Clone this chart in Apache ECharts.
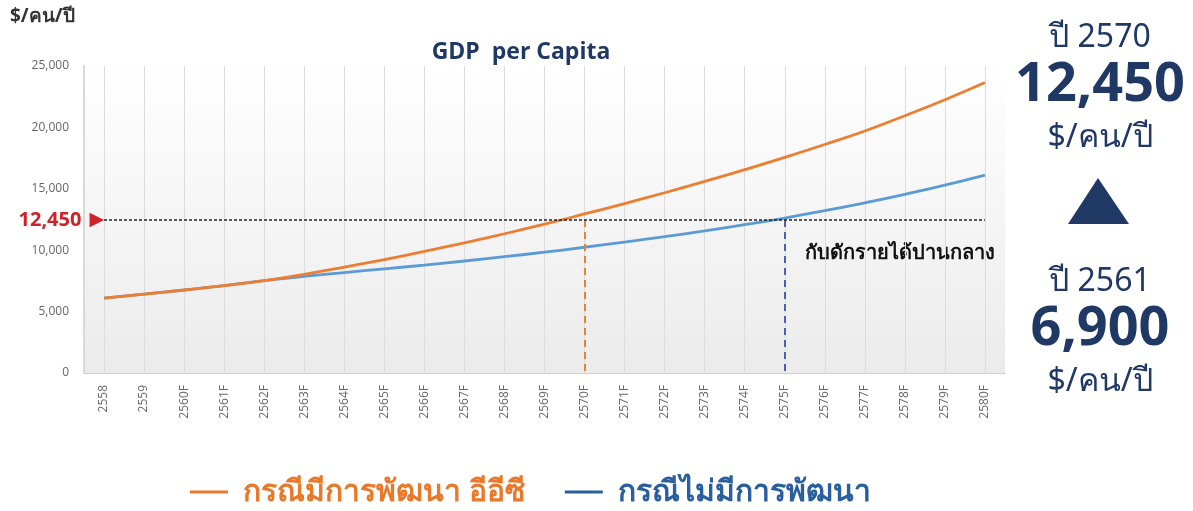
<!DOCTYPE html>
<html>
<head>
<meta charset="utf-8">
<script src="https://cdn.jsdelivr.net/npm/echarts@6/dist/echarts.min.js"></script>
<style>
  html, body { margin: 0; padding: 0; background: #ffffff; }
  #main { width: 1193px; height: 511px; }
</style>
</head>
<body>
<div id="main"></div>
<script>
// ปี (แกน x)
var years = ['2558', '2559', '2560F', '2561F', '2562F', '2563F', '2564F', '2565F', '2566F', '2567F', '2568F', '2569F',
  '2570F', '2571F', '2572F', '2573F', '2574F', '2575F', '2576F', '2577F', '2578F', '2579F', '2580F'];
// กรณีมีการพัฒนา อีอีซี
var eecGdp = [6100, 6430, 6760, 7110, 7520, 8040, 8620, 9240, 9900, 10600, 11340, 12120,
  12950, 13800, 14680, 15600, 16560, 17560, 18610, 19710, 20950, 22250, 23650];
// กรณีไม่มีการพัฒนา
var baseGdp = [6100, 6430, 6760, 7110, 7520, 7860, 8180, 8480, 8790, 9120, 9470, 9840,
  10240, 10660, 11100, 11570, 12080, 12620, 13220, 13860, 14550, 15300, 16120];
var yTicks = [0, 5000, 10000, 15000, 20000, 25000];
var trapValue = 12450;
var eecYear = '2570F';
var baseYear = '2575F';

var navy = '#1f3864';
var font = '"Noto Sans", "Open Sans", sans-serif';

var chart = echarts.init(document.getElementById('main'));

chart.setOption({
  backgroundColor: '#ffffff',
  animation: false,
  grid: {
    left: 84, right: 188, top: 66, bottom: 138,
    show: true,
    borderWidth: 0,
    backgroundColor: new echarts.graphic.LinearGradient(0, 0, 0, 1, [
      { offset: 0, color: '#ffffff' },
      { offset: 1, color: '#ebebeb' }
    ])
  },
  legend: {
    bottom: -1,
    left: 185,
    icon: 'rect',
    itemWidth: 38,
    itemHeight: 3,
    itemGap: 40,
    textStyle: { fontFamily: font, fontSize: 30, fontWeight: 'bold', padding: [0, 0, 0, 10] },
    data: [
      { name: 'กรณีมีการพัฒนา อีอีซี', textStyle: { color: '#e8792b' } },
      { name: 'กรณีไม่มีการพัฒนา', textStyle: { color: '#2a5f9e' } }
    ]
  },
  xAxis: {
    type: 'category',
    data: years,
    boundaryGap: true,
    axisLine: { lineStyle: { color: '#d0d0d0' } },
    axisTick: { show: true, inside: true, alignWithLabel: true, length: 307, lineStyle: { color: '#dcdcdc' } },
    splitLine: { show: false },
    axisLabel: { rotate: 90, fontSize: 12, color: '#666666', margin: 12, fontFamily: '"Open Sans", sans-serif' }
  },
  yAxis: {
    type: 'value',
    min: yTicks[0],
    max: yTicks[yTicks.length - 1],
    interval: yTicks[1] - yTicks[0],
    axisLine: { show: true, lineStyle: { color: '#d9d9d9', width: 2 } },
    axisTick: { show: false },
    splitLine: { show: false },
    axisLabel: {
      fontSize: 12, color: '#666666', margin: 15, fontFamily: '"Open Sans", sans-serif',
      formatter: function (v) { return v.toLocaleString('en-US'); }
    }
  },
  series: [
    {
      name: 'กรณีไม่มีการพัฒนา',
      type: 'line',
      data: baseGdp,
      smooth: true,
      showSymbol: false,
      lineStyle: { color: '#5b9bd5', width: 2.8 },
      itemStyle: { color: '#2a5f9e' },
      z: 2,
      markLine: {
        silent: true,
        symbol: 'none',
        label: { show: false },
        lineStyle: { color: '#4d5fb0', type: [7, 5], width: 2 },
        data: [[{ coord: [baseYear, trapValue] }, { coord: [baseYear, 0] }]]
      }
    },
    {
      name: 'กรณีมีการพัฒนา อีอีซี',
      type: 'line',
      data: eecGdp,
      smooth: true,
      showSymbol: false,
      lineStyle: { color: '#ed7d31', width: 2.8 },
      itemStyle: { color: '#e8792b' },
      z: 3,
      markLine: {
        silent: true,
        symbol: 'none',
        data: [
          [{ coord: [eecYear, trapValue] }, { coord: [eecYear, 0] }],
          [
            {
              coord: [years[0], trapValue],
              lineStyle: { color: '#222222', type: [3, 2], width: 1.5 },
              label: {
                show: true,
                position: 'start',
                distance: 0,
                formatter: '{v|12,450}{t|▶}',
                rich: {
                  v: { color: '#d0202a', fontSize: 20, fontWeight: 'bold', fontFamily: '"Open Sans", sans-serif', padding: [0, 8, 0, 0] },
                  t: { color: '#d0202a', fontSize: 19, fontFamily: '"DejaVu Sans", sans-serif' }
                }
              }
            },
            { coord: [years[years.length - 1], trapValue] }
          ]
        ],
        label: { show: false },
        lineStyle: { color: '#e8803a', type: [7, 5], width: 2 }
      }
    }
  ],
  graphic: [
    { type: 'text', left: 10, top: 7, style: { text: '$/คน/ปี', fill: '#333333', font: 'bold 19px ' + font } },
    { type: 'text', x: 521, y: 52, style: { text: 'GDP  per Capita', fill: navy, font: 'bold 23px "Open Sans", sans-serif', textAlign: 'center', textVerticalAlign: 'middle' } },
    { type: 'text', x: 805, y: 253, style: { text: 'กับดักรายได้ปานกลาง', fill: '#111111', font: 'bold 20px ' + font, textVerticalAlign: 'middle' } },
    { type: 'text', x: 1100, y: 38, style: { text: 'ปี 2570', fill: navy, font: '32px ' + font, textAlign: 'center', textVerticalAlign: 'middle' } },
    { type: 'text', x: 1100, y: 86, style: { text: '12,450', fill: navy, font: 'bold 54px "Open Sans", sans-serif', textAlign: 'center', textVerticalAlign: 'middle' } },
    { type: 'text', x: 1100, y: 138, style: { text: '$/คน/ปี', fill: navy, font: '32px ' + font, textAlign: 'center', textVerticalAlign: 'middle' } },
    { type: 'polygon', shape: { points: [[1098, 178], [1129, 224], [1068, 224]] }, style: { fill: navy } },
    { type: 'text', x: 1100, y: 282, style: { text: 'ปี 2561', fill: navy, font: '32px ' + font, textAlign: 'center', textVerticalAlign: 'middle' } },
    { type: 'text', x: 1100, y: 330, style: { text: '6,900', fill: navy, font: 'bold 54px "Open Sans", sans-serif', textAlign: 'center', textVerticalAlign: 'middle' } },
    { type: 'text', x: 1100, y: 382, style: { text: '$/คน/ปี', fill: navy, font: '32px ' + font, textAlign: 'center', textVerticalAlign: 'middle' } }
  ]
});
</script>
</body>
</html>
